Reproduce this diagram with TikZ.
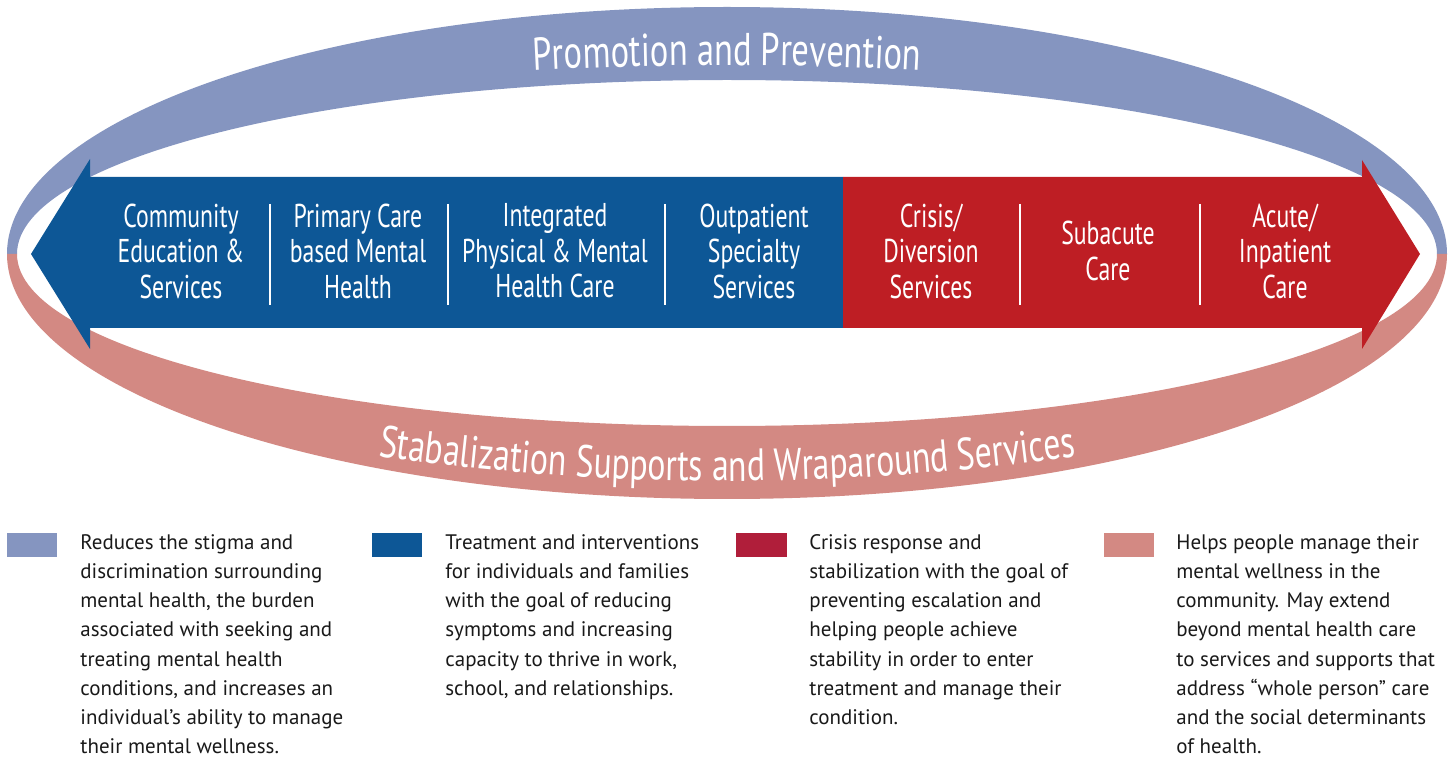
\documentclass[tikz,border=0pt]{standalone}
\usepackage{fontspec}
\setmainfont{PT Sans}
\newfontfamily\condfont[FakeStretch=0.75]{PT Sans}
\newfontfamily\carefont[FakeStretch=0.72]{PT Sans}
\usetikzlibrary{decorations.text}
\definecolor{promo}{HTML}{8595C0}
\definecolor{stab}{HTML}{D38983}
\definecolor{treat}{HTML}{0D5796}
\definecolor{crisis}{HTML}{BE1E24}
\definecolor{crisiskey}{HTML}{B01E3A}
\begin{document}
\begin{tikzpicture}[x=0.5pt, y=-0.5pt,
    care/.style={text=white, align=center, inner sep=0pt,
      font=\carefont\fontsize{16.5}{17.75}\selectfont},
    keytext/.style={anchor=north west, align=left, inner sep=0pt, text=black!90,
      font=\fontsize{10.5}{14.6}\selectfont},
    divider/.style={white, line width=0.8pt}]
  \useasboundingbox (0, 0) rectangle (1453, 759);

  % outer bands
  \fill[promo] (7, 254) arc[start angle=180, end angle=360, x radius=720, y radius=247]
    -- (1437, 254) arc[start angle=0, end angle=-180, x radius=710, y radius=174] -- cycle;
  \fill[stab] (7, 254) arc[start angle=180, end angle=0, x radius=720, y radius=245]
    -- (1437, 254) arc[start angle=0, end angle=180, x radius=710, y radius=172] -- cycle;
  \path[decorate, decoration={text along path, text align=center, text color=white,
      text={|\condfont\fontsize{23}{23}\selectfont|Promotion and Prevention}}]
    (327, 87) .. controls (594, 58) and (860, 58) .. (1127, 87);
  \path[decorate, decoration={text along path, text align=center, text color=white,
      text={|\condfont\fontsize{22.5}{22.5}\selectfont|Stabalization Supports and Wraparound Services}}]
    (227, 430) .. controls (560, 498) and (894, 498) .. (1227, 430);

  % double arrow
  \fill[treat] (31, 254) -- (90, 159) -- (90, 177) -- (843, 177) -- (843, 328)
    -- (90, 328) -- (90, 349) -- cycle;
  \fill[crisis] (843, 177) -- (1362, 177) -- (1362, 160) -- (1420, 254) -- (1362, 349)
    -- (1362, 328) -- (843, 328) -- cycle;
  \foreach \x in {270, 448, 665, 1020, 1200} {
    \draw[divider] (\x, 204) to (\x, 305);
  }
  \foreach \n/\x/\t in {comm/181/{Community\\Education \&\\Services},
                        prim/358/{Primary Care\\based Mental\\Health},
                        integ/555/{Integrated\\Physical \& Mental\\Health Care},
                        outp/754/{Outpatient\\Specialty\\Services},
                        crisis/931/{Crisis/\\Diversion\\Services},
                        subac/1108/{Subacute\\Care},
                        acute/1285/{Acute/\\Inpatient\\Care}} {
    \node[care] (\n) at (\x, 251) {\t};
  }

  % legend
  \fill[promo] (7, 533) rectangle (57, 557);
  \fill[treat] (372, 533) rectangle (422, 557);
  \fill[crisiskey] (736, 533) rectangle (787, 557);
  \fill[stab] (1104, 533) rectangle (1154, 557);
  \node[keytext] (keypromo) at (80, 534) {Reduces the stigma and\\discrimination surrounding\\mental health, the burden\\associated with seeking and\\treating mental health\\conditions, and increases an\\individual’s ability to manage\\their mental wellness.};
  \node[keytext] (keytreat) at (445, 534) {Treatment and interventions\\for individuals and families\\with the goal of reducing\\symptoms and increasing\\capacity to thrive in work,\\school, and relationships.};
  \node[keytext] (keycrisis) at (809, 534) {Crisis response and\\stabilization with the goal of\\preventing escalation and\\helping people achieve\\stability in order to enter\\treatment and manage their\\condition.};
  \node[keytext] (keystab) at (1176, 534) {Helps people manage their\\mental wellness in the\\community. May extend\\beyond mental health care\\to services and supports that\\address “whole person” care\\and the social determinants\\of health.};
\end{tikzpicture}
\end{document}
